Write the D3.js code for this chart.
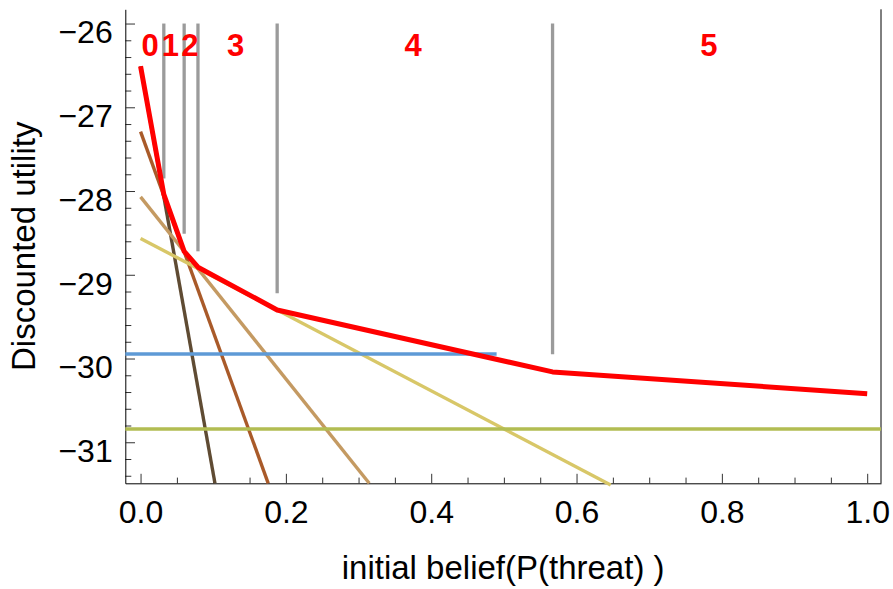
<!DOCTYPE html>
<html>
<head>
<meta charset="utf-8">
<script src="https://cdn.jsdelivr.net/npm/d3@7"></script>
<style>
  body { margin: 0; background: #fff; }
  text { font-family: "Liberation Sans", Arial, sans-serif; }
</style>
</head>
<body>
<div id="chart"></div>
<script>
// Region boundaries (initial belief) and where each grey marker stops
const boundaries = [0.032, 0.060, 0.079, 0.188, 0.567];
const boundaryEnds = [-27.85, -28.51, -28.72, -29.22, -29.95];

// Region labels and their positions
const regionLabels = ["0", "1", "2", "3", "4", "5"];
const labelX = [0.013, 0.041, 0.068, 0.131, 0.375, 0.782];

// Upper envelope (value function)
const envelopeX = [0, 0.032, 0.060, 0.079, 0.188, 0.567, 1.0];
const envelopeY = [-26.51, -28.04, -28.72, -28.91, -29.42, -30.16, -30.42];

// Individual alpha-vector lines: [start, end] in (belief, utility)
const lineNames = ["a0", "a1", "a2", "a3", "a4", "a5"];
const lineX = [[0, 0.1024], [0, 0.1757], [0, 0.3147], [0, 0.647], [-0.021, 0.49], [-0.021, 1.019]];
const lineY = [[-26.51, -31.49], [-27.29, -31.49], [-28.07, -31.49], [-28.566, -31.51], [-29.946, -29.946], [-30.842, -30.842]];
const lineColors = ["#5f4b33", "#a95a29", "#c49a62", "#d8c768", "#5e9ad6", "#b2bd52"];

const xMajor = [0, 0.2, 0.4, 0.6, 0.8, 1.0];
const yMajor = [-31, -30, -29, -28, -27, -26];

const width = 893, height = 589;
const plot = { left: 125.3, right: 881, top: 9.3, bottom: 483.3 };

const svg = d3.select("#chart").append("svg")
  .attr("width", width)
  .attr("height", height);

const x = d3.scaleLinear().domain([-0.021, 1.019]).range([plot.left, plot.right]);
const y = d3.scaleLinear().domain([-31.49, -25.83]).range([plot.bottom, plot.top]);

// minor ticks
const xMinor = d3.range(0, 1.0001, 0.05).filter(v => !xMajor.some(m => Math.abs(m - v) < 1e-6));
const yMinor = d3.range(-31.4, -25.8, 0.2).filter(v => !yMajor.some(m => Math.abs(m - v) < 1e-6));

svg.append("g")
  .attr("transform", `translate(0, ${plot.bottom})`)
  .call(d3.axisBottom(x).tickValues(xMinor).tickSize(-5.7).tickFormat(""))
  .call(g => g.select(".domain").remove())
  .call(g => g.selectAll("line").attr("stroke", "#333"));

svg.append("g")
  .attr("transform", `translate(${plot.left}, 0)`)
  .call(d3.axisLeft(y).tickValues(yMinor).tickSize(-6).tickFormat(""))
  .call(g => g.select(".domain").remove())
  .call(g => g.selectAll("line").attr("stroke", "#333"));

// major ticks and labels
const xAxis = svg.append("g")
  .attr("transform", `translate(0, ${plot.bottom})`)
  .call(d3.axisBottom(x).tickValues(xMajor).tickSize(-9.5).tickSizeOuter(0).tickFormat(d3.format(".1f")));
xAxis.select(".domain").attr("stroke", "#000");
xAxis.selectAll("line").attr("stroke", "#333");
xAxis.selectAll("text")
  .attr("y", 39.4).attr("dy", 0)
  .attr("font-size", 32).attr("fill", "#000")
  .attr("font-family", "Liberation Sans, Arial, sans-serif");

const yAxis = svg.append("g")
  .attr("transform", `translate(${plot.left}, 0)`)
  .call(d3.axisLeft(y).tickValues(yMajor).tickSize(-9.7).tickSizeOuter(0).tickFormat(d3.format("d")));
yAxis.select(".domain").attr("stroke", "#000");
yAxis.selectAll("line").attr("stroke", "#333");
yAxis.selectAll("text")
  .attr("x", -12.6).attr("y", 19.3).attr("dy", 0)
  .attr("font-size", 32).attr("fill", "#000")
  .attr("font-family", "Liberation Sans, Arial, sans-serif");

// right frame
svg.append("line")
  .attr("x1", plot.right).attr("x2", plot.right)
  .attr("y1", plot.top).attr("y2", plot.bottom)
  .attr("stroke", "#000");

// grey region boundaries
svg.append("g")
  .selectAll("line")
  .data(boundaries)
  .join("line")
  .attr("x1", d => x(d)).attr("x2", d => x(d))
  .attr("y1", y(-26))
  .attr("y2", (d, i) => y(boundaryEnds[i]))
  .attr("stroke", "#9b9b9b")
  .attr("stroke-width", 3.3);

// alpha-vector lines
svg.append("g")
  .selectAll("line")
  .data(lineNames)
  .join("line")
  .attr("x1", (d, i) => x(lineX[i][0]))
  .attr("y1", (d, i) => y(lineY[i][0]))
  .attr("x2", (d, i) => x(lineX[i][1]))
  .attr("y2", (d, i) => y(lineY[i][1]))
  .attr("stroke", (d, i) => lineColors[i])
  .attr("stroke-width", 3.4);

// upper envelope
const envelope = envelopeX.map((v, i) => [v, envelopeY[i]]);
svg.append("path")
  .datum(envelope)
  .attr("fill", "none")
  .attr("stroke", "#ff0000")
  .attr("stroke-width", 5)
  .attr("stroke-linejoin", "round")
  .attr("d", d3.line().x(d => x(d[0])).y(d => y(d[1])));

// region labels
svg.append("g")
  .selectAll("text")
  .data(regionLabels)
  .join("text")
  .attr("x", (d, i) => x(labelX[i]))
  .attr("y", 55.5)
  .attr("text-anchor", "middle")
  .attr("font-size", 31)
  .attr("font-weight", "bold")
  .attr("fill", "#ff0000")
  .text(d => d);

// axis titles
svg.append("text")
  .attr("x", (plot.left + plot.right) / 2)
  .attr("y", 579)
  .attr("text-anchor", "middle")
  .attr("font-size", 33)
  .text("initial belief(P(threat) )");

svg.append("text")
  .attr("transform", `translate(35, ${(plot.top + plot.bottom) / 2}) rotate(-90)`)
  .attr("text-anchor", "middle")
  .attr("font-size", 33)
  .text("Discounted utility");
</script>
</body>
</html>
